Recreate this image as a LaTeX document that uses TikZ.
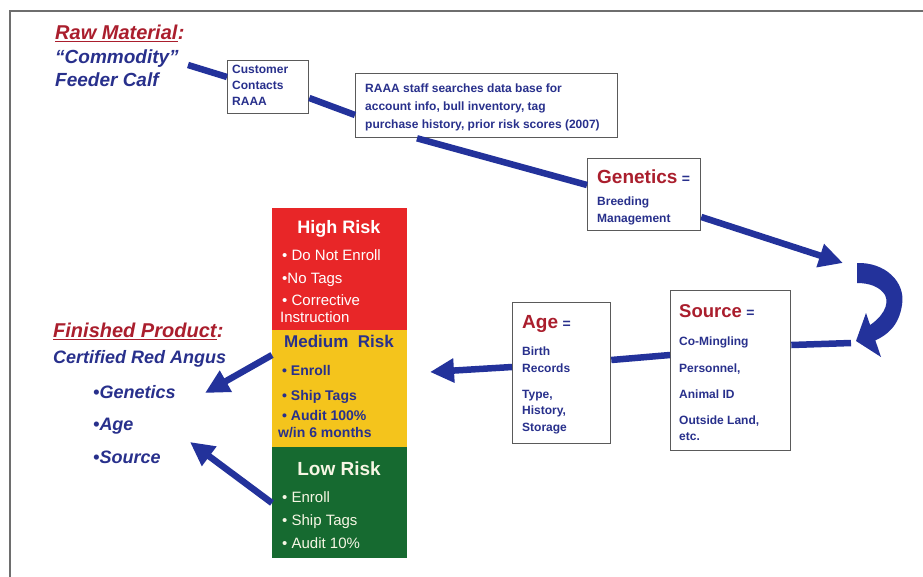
\documentclass[tikz,border=0pt]{standalone}
\usepackage{fontspec}
\setmainfont{Liberation Sans}
\usetikzlibrary{arrows.meta,calc}
\definecolor{navy}{RGB}{40,48,140}
\definecolor{dred}{RGB}{170,30,45}
\definecolor{arrowblue}{RGB}{35,50,155}
\definecolor{riskred}{RGB}{232,38,40}
\definecolor{riskyellow}{RGB}{244,196,28}
\definecolor{riskgreen}{RGB}{22,106,48}
\definecolor{framegray}{RGB}{110,110,110}
\definecolor{boxgray}{RGB}{90,90,90}
\definecolor{cream}{RGB}{246,246,228}
\newcommand{\fs}[1]{\fontsize{#1}{#1}\selectfont}
\begin{document}
\begin{tikzpicture}[x=1pt,y=-1pt,
  infobox/.style={draw=boxgray,line width=1.3pt,fill=white,anchor=north west,inner sep=0pt},
  riskbox/.style={anchor=north west,inner sep=0pt,minimum width=135pt},
  flow/.style={draw=arrowblue,line width=6.5pt},
  flowarrow/.style={flow,-{Triangle[length=24pt,width=23pt]}},
  txt/.style={anchor=base west,inner sep=0pt},
  small/.style={txt,text=navy,font=\fs{12}\bfseries},
  headline/.style={txt,font=\fs{20}\bfseries\itshape},
  navyline/.style={txt,text=navy,font=\fs{19}\bfseries\itshape},
  boxtitle/.style={txt,text=dred,font=\fs{19}\bfseries},
  eqsign/.style={txt,text=navy,font=\fs{14}\bfseries},
  whiteitem/.style={txt,text=white,font=\fs{15}},
  creamitem/.style={txt,text=cream,font=\fs{15}},
  navyitem/.style={txt,text=navy,font=\fs{14}\bfseries}
]
\useasboundingbox (0,0) rectangle (923,576);
\clip (0,0) rectangle (923,576);
\fill[white] (0,0) rectangle (923,576);
\draw[framegray,line width=1.5pt] (10,700) -- (10,11) -- (1000,11);

% ---- boxes ----
\node[infobox,minimum width=81pt,minimum height=53pt] (cust) at (227,60) {};
\node[infobox,minimum width=262pt,minimum height=64pt] (staff) at (355,73) {};
\node[infobox,minimum width=113pt,minimum height=72pt] (gen) at (587,158) {};
\node[infobox,minimum width=120pt,minimum height=160pt] (src) at (670,290) {};
\node[infobox,minimum width=98pt,minimum height=141pt] (age) at (512,302) {};
\node[riskbox,fill=riskred,minimum height=122pt] (high) at (272,208) {};
\node[riskbox,fill=riskyellow,minimum height=117pt] (med) at (272,330) {};
\node[riskbox,fill=riskgreen,minimum height=111pt] (low) at (272,447) {};

% ---- free ends ----
\coordinate (c0) at (188,65);
\coordinate (ctop) at (843,263);
\coordinate (cbot) at (851,343);
\coordinate (agetip) at (430,372);
\coordinate (gentip) at (205,393);
\coordinate (srctip) at (190,442);

% ---- connectors ----
\draw[flow] (c0) -- ($(cust.north west)+(0,17)$);
\draw[flow] ($(cust.north east)+(0,38)$) -- ($(staff.north west)+(0,42)$);
\draw[flow] ($(staff.south west)+(62,0)$) -- ($(gen.north west)+(0,27)$);
\draw[flowarrow] ($(gen.north east)+(0,59)$) -- (ctop);
% curved turn-around arrow
\fill[arrowblue] (857,263) .. controls (885,262) and (906,282) .. (902,305)
  .. controls (899,325) and (888,335) .. (874,341)
  -- (867,327) .. controls (882,318) and (890,305) .. (885,295)
  .. controls (880,287) and (870,283) .. (857,283) -- cycle;
\fill[arrowblue] (866,313) -- (881,357) -- (856,341) -- cycle;
\draw[flow] (cbot) -- ($(src.north east)+(0,55)$);
\draw[flow] ($(src.north west)+(0,65)$) -- ($(age.north east)+(0,58)$);
\draw[flowarrow] ($(age.north west)+(0,65)$) -- (agetip);
\draw[flowarrow] ($(med.north west)+(0,25)$) -- (gentip);
\draw[flowarrow] ($(low.north west)+(0,56)$) -- (srctip);

% ---- raw material ----
\node[headline,text=dred] (rawm) at (55,39) {Raw Material};
\node[headline,text=dred] (rawc) at (rawm.base east) {:};
\draw[dred,line width=1.3pt] ($(rawm.base west)+(0,2.5)$) -- ($(rawm.base east)+(0,2.5)$);
\node[navyline] (commod) at (55,63) {“Commodity”};
\node[navyline] (feeder) at (55,86) {Feeder Calf};

% ---- customer box text ----
\node[small] (cu1) at (232,73) {Customer};
\node[small] (cu2) at (232,89) {Contacts};
\node[small] (cu3) at (232,105) {RAAA};

% ---- staff box text ----
\node[small] (st1) at (365,92) {RAAA staff searches data base for};
\node[small] (st2) at (365,110) {account info, bull inventory, tag};
\node[small] (st3) at (365,128) {purchase history, prior risk scores (2007)};

% ---- genetics ----
\node[boxtitle] (gt) at (597,183) {Genetics};
\node[eqsign] (ge) at ($(gt.base east)+(4,0)$) {=};
\node[small] (g1) at (597,205) {Breeding};
\node[small] (g2) at (597,222) {Management};

% ---- source ----
\node[boxtitle,font=\fs{18.5}\bfseries] (so) at (679,317) {Source};
\node[eqsign] (se) at ($(so.base east)+(4,0)$) {=};
\node[small] (s1) at (679,345) {Co-Mingling};
\node[small] (s2) at (679,372) {Personnel,};
\node[small] (s3) at (679,398) {Animal ID};
\node[small] (s4) at (679,424) {Outside Land,};
\node[small] (s5) at (679,440) {etc.};

% ---- age ----
\node[boxtitle] (ag) at (522,328) {Age};
\node[eqsign] (ae) at ($(ag.base east)+(4,0)$) {=};
\node[small] (a1) at (522,355) {Birth};
\node[small] (a2) at (522,372) {Records};
\node[small] (a3) at (522,398) {Type,};
\node[small] (a4) at (522,414) {History,};
\node[small] (a5) at (522,431) {Storage};

% ---- risk texts ----
\node[anchor=base,inner sep=0pt,text=white,font=\fs{18}\bfseries] (hr) at (339,233) {High Risk};
\node[whiteitem] (h1) at (282,260) {• Do Not Enroll};
\node[whiteitem] (h2) at (282,283) {•No Tags};
\node[whiteitem] (h3) at (282,305) {• Corrective};
\node[whiteitem] (h4) at (280,322) {Instruction};
\node[anchor=base,inner sep=0pt,text=navy,font=\fs{17}\bfseries] (mr) at (339,347) {Medium\ \ Risk};
\node[navyitem] (m1) at (282,375) {• Enroll};
\node[navyitem] (m2) at (282,400) {• Ship Tags};
\node[navyitem] (m3) at (282,420) {• Audit 100\%};
\node[navyitem] (m4) at (278,437) {w/in 6 months};
\node[anchor=base,inner sep=0pt,text=cream,font=\fs{19}\bfseries] (lr) at (339,475) {Low Risk};
\node[creamitem] (l1) at (282,502) {• Enroll};
\node[creamitem] (l2) at (282,525) {• Ship Tags};
\node[creamitem] (l3) at (282,548) {• Audit 10\%};

% ---- finished product ----
\node[headline,text=dred] (fin) at (53,337) {Finished Product};
\node[headline,text=dred] (finc) at (fin.base east) {:};
\draw[dred,line width=1.3pt] ($(fin.base west)+(0,2.5)$) -- ($(fin.base east)+(0,2.5)$);
\node[navyline,font=\fs{18}\bfseries\itshape] (cra) at (53,363) {Certified Red Angus};
\node[navyline,font=\fs{18}\bfseries\itshape] (pg) at (93,398) {•Genetics};
\node[navyline,font=\fs{18}\bfseries\itshape] (pa) at (93,430) {•Age};
\node[navyline,font=\fs{18}\bfseries\itshape] (ps) at (93,463) {•Source};
\end{tikzpicture}
\end{document}
